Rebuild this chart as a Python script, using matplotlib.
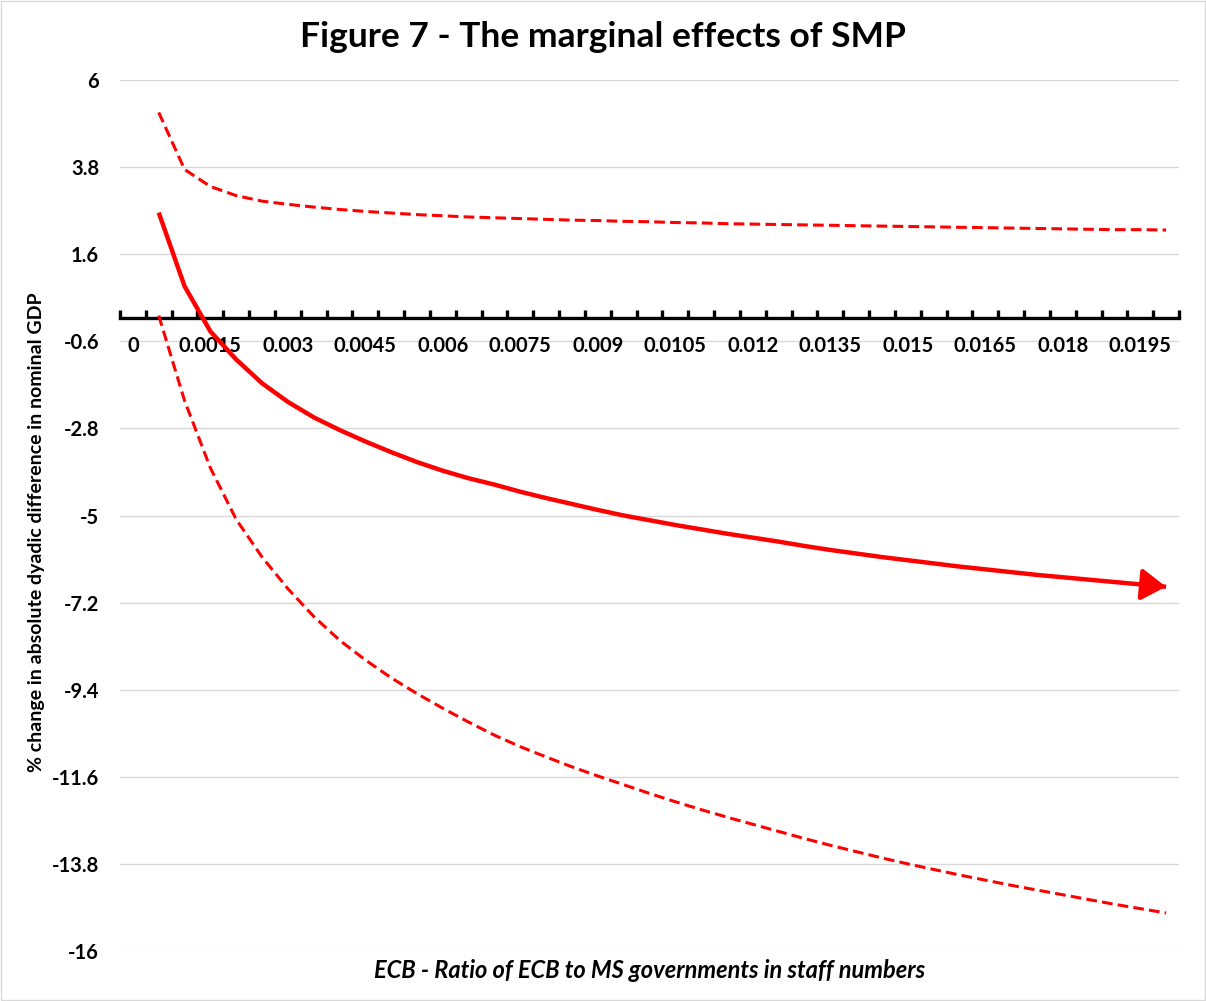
import matplotlib
matplotlib.use("Agg")
import matplotlib.pyplot as plt
from matplotlib.patches import Rectangle

plt.rcParams["font.family"] = ["Lato", "DejaVu Sans"]

# Categories (ratio of ECB to MS governments in staff numbers)
categories = ["0", "0.0005", "0.001", "0.0015", "0.002", "0.0025", "0.003", "0.0035",
              "0.004", "0.0045", "0.005", "0.0055", "0.006", "0.0065", "0.007", "0.0075",
              "0.008", "0.0085", "0.009", "0.0095", "0.01", "0.0105", "0.011", "0.0115",
              "0.012", "0.0125", "0.013", "0.0135", "0.014", "0.0145", "0.015", "0.0155",
              "0.016", "0.0165", "0.017", "0.0175", "0.018", "0.0185", "0.019", "0.0195",
              "0.02"]
xtick_labels = ["0", "0.0015", "0.003", "0.0045", "0.006", "0.0075", "0.009", "0.0105",
                "0.012", "0.0135", "0.015", "0.0165", "0.018", "0.0195"]

# Series values for categories[1:] (0.0005 .. 0.02)
marginal_effect = [2.65, 0.79, -0.35, -1.06, -1.66, -2.13, -2.52, -2.84, -3.13, -3.40,
                   -3.65, -3.87, -4.06, -4.22, -4.40, -4.56, -4.71, -4.86, -5.00, -5.12,
                   -5.24, -5.35, -5.46, -5.56, -5.66, -5.77, -5.87, -5.96, -6.05, -6.13,
                   -6.21, -6.29, -6.36, -6.43, -6.50, -6.56, -6.62, -6.68, -6.74, -6.80]
upper_bound = [5.18, 3.74, 3.31, 3.08, 2.94, 2.86, 2.79, 2.73, 2.68, 2.64,
               2.60, 2.57, 2.54, 2.52, 2.50, 2.48, 2.46, 2.45, 2.43, 2.42,
               2.40, 2.39, 2.37, 2.36, 2.35, 2.34, 2.33, 2.32, 2.31, 2.30,
               2.29, 2.28, 2.27, 2.26, 2.25, 2.24, 2.23, 2.22, 2.22, 2.21]
lower_bound = [0.05, -2.10, -3.80, -5.10, -6.05, -6.85, -7.55, -8.15, -8.65, -9.10,
               -9.50, -9.87, -10.22, -10.55, -10.84, -11.10, -11.35, -11.58, -11.80, -12.02,
               -12.23, -12.43, -12.62, -12.80, -12.98, -13.16, -13.33, -13.49, -13.65, -13.80,
               -13.94, -14.08, -14.21, -14.34, -14.46, -14.58, -14.70, -14.82, -14.93, -15.04]

yticks = [6, 3.8, 1.6, -0.6, -2.8, -5, -7.2, -9.4, -11.6, -13.8, -16]
ytick_labels = ["6", "3.8", "1.6", "-0.6", "-2.8", "-5", "-7.2", "-9.4", "-11.6", "-13.8", "-16"]

fig = plt.figure(figsize=(12.06, 10.01), dpi=100)
fig.patches.append(Rectangle((0.001, 0.001), 0.998, 0.998, transform=fig.transFigure,
                             fill=False, edgecolor="#d9d9d9", lw=1))
ax = fig.add_axes([120 / 1206, 1 - 951 / 1001, 1059 / 1206, 871 / 1001])

n = len(categories)
pos = list(range(1, n))
ax.plot(pos, upper_bound, color="#ff0000", lw=2.2, dashes=(3.5, 1.7), zorder=3)
ax.plot(pos, lower_bound, color="#ff0000", lw=2.2, dashes=(3.5, 1.7), zorder=3)
ax.plot(pos, marginal_effect, color="#ff0000", lw=3.2, zorder=3, solid_capstyle="butt")
ax.annotate("", xy=(pos[-1], marginal_effect[-1]), xytext=(pos[-2], marginal_effect[-2]),
            arrowprops=dict(arrowstyle="-|>,head_length=0.5,head_width=0.32", color="#ff0000",
                            lw=3.2, mutation_scale=30, shrinkA=0, shrinkB=0), zorder=4)

ax.set_xlim(-0.5, n - 0.5)
ax.set_ylim(-16, 6)
ax.set_yticks(yticks)
ax.set_yticklabels(ytick_labels, fontsize=14.5, fontweight="bold")
ax.tick_params(axis="y", length=0, pad=15)
for yv in yticks:
    ax.axhline(yv, color="#d9d9d9", lw=1, zorder=0.2)
ax.set_axisbelow(True)

for s in ["left", "right", "top"]:
    ax.spines[s].set_visible(False)
ax.spines["bottom"].set_position(("data", 0))
ax.spines["bottom"].set_linewidth(2.4)
ax.spines["bottom"].set_color("black")

ax.set_xticks([i - 0.5 for i in range(n + 1)])
ax.set_xticklabels([""] * (n + 1))
ax.tick_params(axis="x", which="major", direction="in", length=6, width=2.4, color="black")
ax.set_xticks([categories.index(l) for l in xtick_labels], xtick_labels, minor=True)
ax.tick_params(axis="x", which="minor", direction="in", length=0, pad=13)
for t in ax.get_xticklabels(minor=True):
    t.set_fontsize(14.5)
    t.set_fontweight("bold")

fig.text(0.5, 1 - 37 / 1001, "Figure 7 - The marginal effects of SMP", ha="center",
         va="center", fontsize=25.5, fontweight="bold")
fig.text(37 / 1206, 1 - 532 / 1001, "% change in absolute dyadic difference in nominal GDP",
         rotation=90, ha="center", va="center", fontsize=14, fontweight="bold")
fig.text(650 / 1206, 1 - 971 / 1001, "ECB - Ratio of ECB to MS governments in staff numbers",
         ha="center", va="center", fontsize=17, fontweight="bold", fontstyle="italic")

fig.savefig("out.png", dpi=100)
